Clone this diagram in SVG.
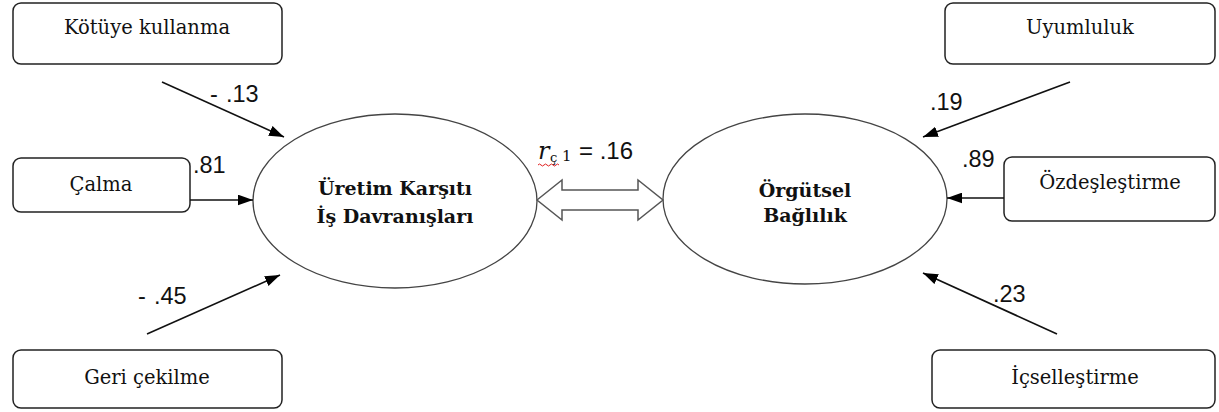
<svg xmlns="http://www.w3.org/2000/svg" width="1219" height="412" viewBox="0 0 1219 412">
<style>
.box{fill:#fff;stroke:#222;stroke-width:1.5}
.ell{fill:#fff;stroke:#444;stroke-width:1.3}
.bt{font-family:"DejaVu Serif","Liberation Serif",serif;font-size:19.5px;fill:#111;text-anchor:middle}
.et{font-family:"DejaVu Serif","Liberation Serif",serif;font-size:19px;font-weight:bold;fill:#111;text-anchor:middle}
.lab{font-family:"Liberation Sans","DejaVu Sans",sans-serif;font-size:23.5px;fill:#111}
.con{stroke:#111;stroke-width:1.6;fill:none;marker-end:url(#ah)}
</style>
<defs>
<marker id="ah" viewBox="0 0 14 10" refX="14" refY="5" markerWidth="15" markerHeight="11" markerUnits="userSpaceOnUse" orient="auto">
<path d="M0,0 L14,5 L0,10 z" fill="#000"/>
</marker>
</defs>
<rect width="1219" height="412" fill="#fff"/>
<g id="n-kotuye"><rect class="box" x="13" y="3" width="269" height="61" rx="8"/><text class="bt" x="147" y="34">Kötüye kullanma</text></g>
<g id="n-calma"><rect class="box" x="13" y="158" width="177" height="54" rx="8"/><text class="bt" x="101" y="191">Çalma</text></g>
<g id="n-geri"><rect class="box" x="13" y="350" width="269" height="58" rx="8"/><text class="bt" x="147" y="384">Geri çekilme</text></g>
<g id="n-ukd"><ellipse class="ell" cx="395" cy="201" rx="142" ry="87"/><text class="et" x="395" y="195">Üretim Karşıtı</text><text class="et" x="395" y="223">İş Davranışları</text></g>
<g id="n-ob"><ellipse class="ell" cx="805" cy="199" rx="142" ry="85"/><text class="et" x="805" y="197">Örgütsel</text><text class="et" x="805" y="222">Bağlılık</text></g>
<g id="n-uyum"><rect class="box" x="945" y="3" width="270" height="61" rx="8"/><text class="bt" x="1080" y="34">Uyumluluk</text></g>
<g id="n-ozd"><rect class="box" x="1004" y="157" width="211" height="64" rx="8"/><text class="bt" x="1110" y="189">Özdeşleştirme</text></g>
<g id="n-ics"><rect class="box" x="932" y="350" width="283" height="58" rx="8"/><text class="bt" x="1075" y="384">İçselleştirme</text></g>
<g id="connectors">
<line class="con" x1="162" y1="82" x2="284" y2="137"/>
<line class="con" x1="190" y1="200" x2="253" y2="200"/>
<line class="con" x1="147" y1="334" x2="280" y2="275"/>
<line class="con" x1="1070" y1="82" x2="923" y2="137"/>
<line class="con" x1="1004" y1="198" x2="947" y2="198"/>
<line class="con" x1="1057" y1="334" x2="923" y2="273"/>
<polygon points="537,200 562,180 562,190 638,190 638,180 663,200 638,220 638,210 562,210 562,220" fill="#fff" stroke="#555" stroke-width="1.5"/>
</g>
<g id="labels">
<text class="lab" x="210" y="102">-<tspan x="226">.13</tspan></text>
<text class="lab" x="193" y="173">.81</text>
<text class="lab" x="138" y="304">-<tspan x="154">.45</tspan></text>
<text class="lab" x="930" y="110">.19</text>
<text class="lab" x="962" y="167">.89</text>
<text class="lab" x="993" y="302">.23</text>
<text x="538" y="159" font-family="'DejaVu Serif','Liberation Serif',serif" font-style="italic" font-size="24" fill="#111">r</text>
<text x="550" y="162" font-family="'DejaVu Serif','Liberation Serif',serif" font-size="13" fill="#111">ç</text>
<text x="562" y="161" font-family="'DejaVu Serif','Liberation Serif',serif" font-size="15" fill="#111">1</text>
<text x="579" y="159" font-family="'Liberation Sans','DejaVu Sans',sans-serif" font-size="24" fill="#111">= .16</text>
<path d="M538,165 q1.5,-2 3,0 t3,0 t3,0 t3,0 t3,0 t3,0 t3,0" fill="none" stroke="#e02020" stroke-width="1"/>
</g>
</svg>
